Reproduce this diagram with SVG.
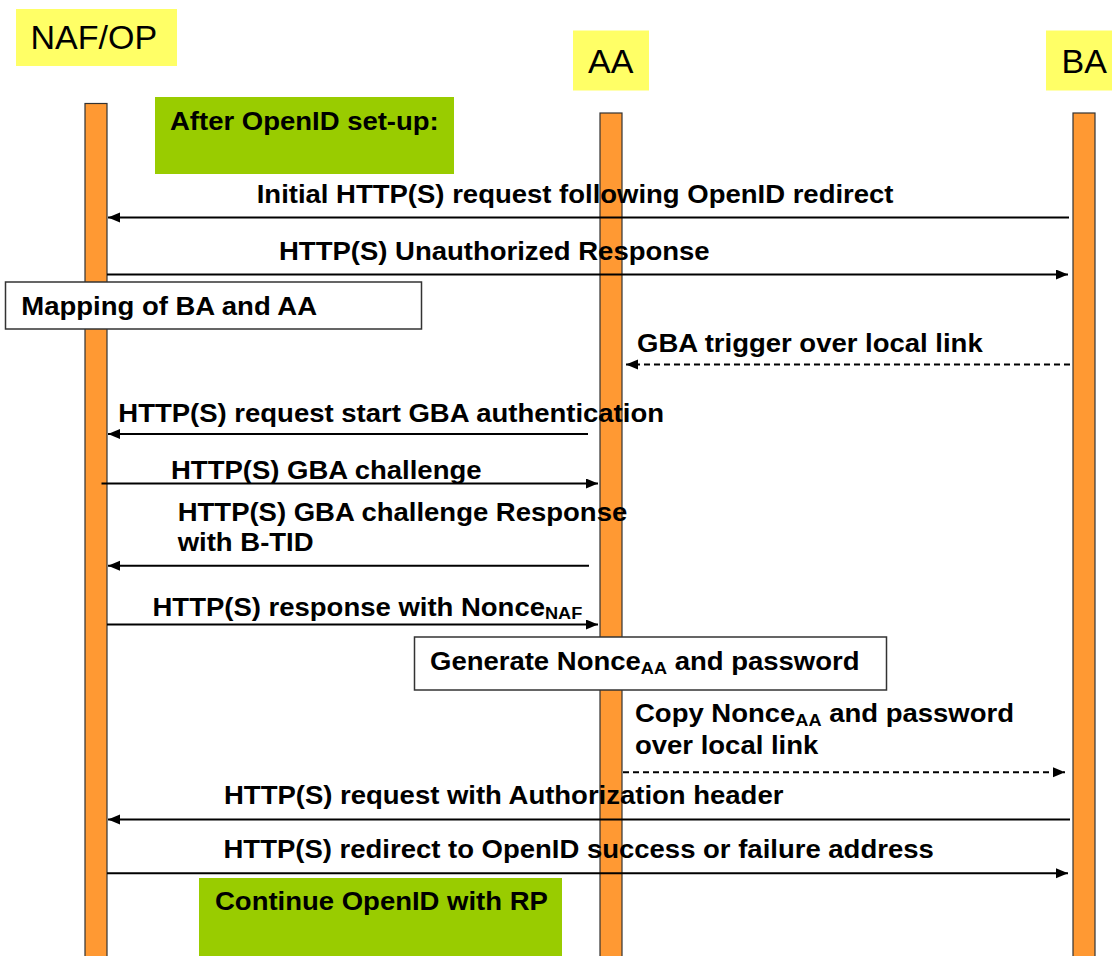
<svg xmlns="http://www.w3.org/2000/svg" width="1112" height="956" viewBox="0 0 1112 956">
<style>
.hdr{fill:#FFFF66}
.hl{font-family:"Liberation Sans",Arial,sans-serif;font-size:34px;fill:#000}
.bar{fill:#FF9933;stroke:#333;stroke-width:1.2}
.green{fill:#99CC00}
.box{fill:#fff;stroke:#333;stroke-width:1.5}
.t{font-family:"Liberation Sans",Arial,sans-serif;font-size:25px;font-weight:bold;fill:#000}
.sub{font-size:16.5px}
.msg{stroke:#000;stroke-width:2;fill:none;marker-end:url(#ah)}
.dash{stroke-dasharray:6 4}
</style>
<defs>
<marker id="ah" markerUnits="userSpaceOnUse" markerWidth="13" markerHeight="11" refX="12" refY="5" orient="auto">
<path d="M0,0 L12,5 L0,10 z" fill="#000"/>
</marker>
</defs>
<g id="naf">
<rect class="hdr" x="16" y="9" width="161" height="57"/>
<text class="hl" x="30.5" y="49.3">NAF/OP</text>
<rect class="bar" x="85" y="103.5" width="22" height="870"/>
</g>
<g id="aa">
<rect class="hdr" x="573" y="30.5" width="76" height="60"/>
<text class="hl" x="588" y="72.5">AA</text>
<rect class="bar" x="600" y="113" width="22" height="870"/>
</g>
<g id="ba">
<rect class="hdr" x="1046" y="30.5" width="70" height="60"/>
<text class="hl" x="1061.5" y="72.5">BA</text>
<rect class="bar" x="1073" y="113" width="22" height="870"/>
</g>
<g id="setup">
<rect class="green" x="155" y="97" width="299" height="77"/>
<text class="t" transform="translate(170,130) scale(1.1,1)">After OpenID set-up:</text>
</g>
<g id="mapping">
<rect class="box" x="5.5" y="282" width="416" height="47"/>
<text class="t" transform="translate(21.3,315) scale(1.1,1)">Mapping of BA and AA</text>
</g>
<g id="generate">
<rect class="box" x="414.5" y="637" width="472" height="53"/>
<text class="t" transform="translate(430,670) scale(1.1,1)">Generate Nonce<tspan class="sub" dy="3.5">AA</tspan><tspan dy="-3.5"> and password</tspan></text>
</g>
<g id="continue">
<rect class="green" x="199" y="878" width="363" height="80"/>
<text class="t" transform="translate(215,910) scale(1.1,1)">Continue OpenID with RP</text>
</g>
<g id="connectors">
<line class="msg" x1="1069" y1="217.5" x2="108" y2="217.5"/>
<line class="msg" x1="107" y1="274.5" x2="1068" y2="274.5"/>
<line class="msg dash" x1="1070" y1="364.5" x2="626" y2="364.5"/>
<line class="msg" x1="588" y1="434" x2="108" y2="434"/>
<line class="msg" x1="101.5" y1="483.5" x2="598" y2="483.5"/>
<line class="msg" x1="589" y1="565.7" x2="108" y2="565.7"/>
<line class="msg" x1="107" y1="624.5" x2="598" y2="624.5"/>
<line class="msg dash" x1="623" y1="772.3" x2="1065" y2="772.3"/>
<line class="msg" x1="1070" y1="819.5" x2="108" y2="819.5"/>
<line class="msg" x1="107" y1="873.3" x2="1068" y2="873.3"/>
</g>
<g id="labels">
<text class="t" transform="translate(256.7,203.3) scale(1.1,1)">Initial HTTP(S) request following OpenID redirect</text>
<text class="t" transform="translate(279,260) scale(1.1,1)">HTTP(S) Unauthorized Response</text>
<text class="t" transform="translate(637,351.5) scale(1.1,1)">GBA trigger over local link</text>
<text class="t" transform="translate(118.3,421.5) scale(1.1,1)">HTTP(S) request start GBA authentication</text>
<text class="t" transform="translate(171,479.3) scale(1.1,1)">HTTP(S) GBA challenge</text>
<text class="t" transform="translate(177.7,520.7) scale(1.1,1)">HTTP(S) GBA challenge Response</text>
<text class="t" transform="translate(177.7,550.5) scale(1.1,1)">with B-TID</text>
<text class="t" transform="translate(152.5,615.7) scale(1.1,1)">HTTP(S) response with Nonce<tspan class="sub" dy="3">NAF</tspan></text>
<text class="t" transform="translate(635,722) scale(1.1,1)">Copy Nonce<tspan class="sub" dy="3.5">AA</tspan><tspan dy="-3.5"> and password</tspan></text>
<text class="t" transform="translate(635,754) scale(1.1,1)">over local link</text>
<text class="t" transform="translate(224,803.5) scale(1.1,1)">HTTP(S) request with Authorization header</text>
<text class="t" transform="translate(223.5,858) scale(1.1,1)">HTTP(S) redirect to OpenID success or failure address</text>
</g>
</svg>
